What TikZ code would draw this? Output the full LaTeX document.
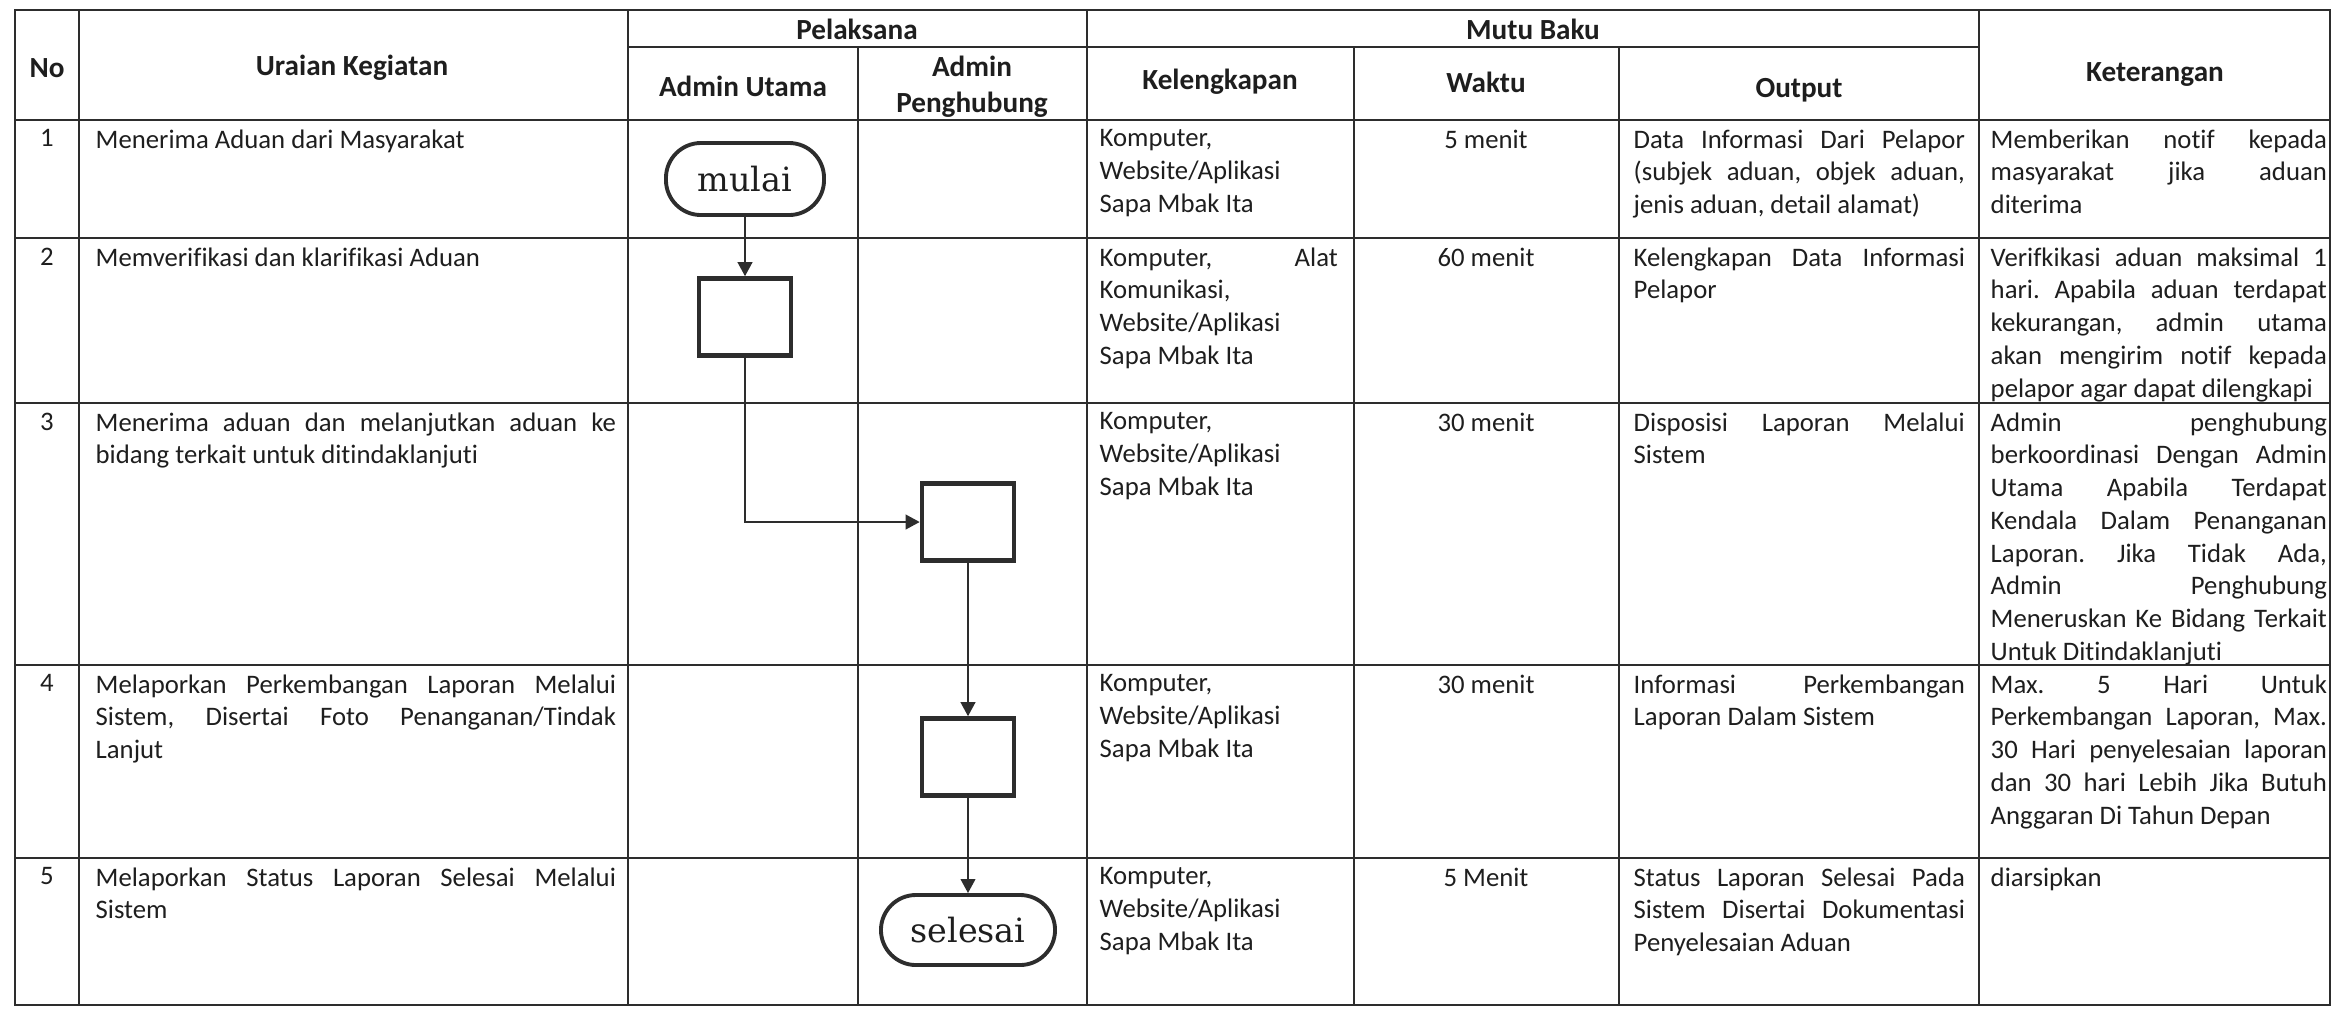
\documentclass[tikz,border=0pt]{standalone}
\usepackage{fontspec}
\setmainfont{Carlito}[Ligatures=NoCommon]
\newfontfamily\flowfont{DejaVu Serif}
\usepackage{tikz}
\usetikzlibrary{arrows.meta, positioning}
\definecolor{clrLine}{RGB}{45,45,45}
\definecolor{clrText}{RGB}{30,30,30}
\hyphenpenalty=10000
\exhyphenpenalty=10000
\frenchspacing

\begin{document}
\begin{tikzpicture}[
  x=0.01cm, y=-0.01cm,
  grid/.style={draw=clrLine, line width=0.6pt},
  head/.style={font=\fontsize{8.3}{10.2}\selectfont\bfseries, align=center, text=clrText},
  num/.style={font=\fontsize{7.6}{9.3}\selectfont, anchor=north, inner sep=0pt, text=clrText},
  cell/.style={num, anchor=north west, align=justify, text width=#1},
  terminal/.style={draw=clrLine, line width=1.1pt, rounded corners=0.35cm,
    minimum width=1.58cm, minimum height=0.72cm, text=clrText,
    font=\flowfont\fontsize{9.5}{10}\selectfont},
  proses/.style={draw=clrLine, line width=1.3pt, minimum width=0.92cm, minimum height=0.77cm},
  arrow/.style={-{Triangle[length=4pt,width=4.2pt]}, line width=0.5pt, color=clrLine}
]
\useasboundingbox (0,0) rectangle (2333,1008);

% Tabel
\draw[grid] (15,10) rectangle (2330,1005);
\foreach \y in {120,238,403,665,858}
  \draw[grid] (15,\y) -- (2330,\y);
\draw[grid] (628,47) -- (1979,47);
\foreach \x in {79,628,1087,1979}
  \draw[grid] (\x,10) -- (\x,1005);
\foreach \x in {858,1354,1619}
  \draw[grid] (\x,47) -- (\x,1005);

% Header
\node[head] (hNo)         at (47,68)   {No};
\node[head] (hUraian)     at (352,68)  {Uraian Kegiatan};
\node[head] (hPelaksana)  at (857,29)  {Pelaksana};
\node[head] (hUtama)      at (743,86)  {Admin Utama};
\node[head] (hPenghubung) at (972,87)  {Admin\\Penghubung};
\node[head] (hMutu)       at (1533,29) {Mutu Baku};
\node[head] (hKelengkapan) at (1220,82) {Kelengkapan};
\node[head] (hWaktu)      at (1486,82) {Waktu};
\node[head] (hOutput)     at (1799,90) {Output};
\node[head] (hKet)        at (2155,74) {Keterangan};

% Baris 1
\node[num] (no1) at (47,129) {1};
\node[cell=5.2cm] (uraian1) at (95,129) {Menerima Aduan dari Masyarakat};
\node[cell=2.38cm] (kel1) at (1099,129) {Komputer,\newline Website/Aplikasi\newline Sapa Mbak Ita};
\node[num] (waktu1) at (1486,129) {5 menit};
\node[cell=3.31cm] (out1) at (1633,129) {Data Informasi Dari Pelapor \linebreak (subjek aduan, objek aduan, \linebreak jenis aduan, detail alamat)};
\node[cell=3.36cm] (ket1) at (1990,129) {Memberikan notif kepada \linebreak masyarakat jika aduan \linebreak diterima};

% Baris 2
\node[num] (no2) at (47,247) {2};
\node[cell=5.2cm] (uraian2) at (95,247) {Memverifikasi dan klarifikasi Aduan};
\node[cell=2.38cm] (kel2) at (1099,247) {Komputer, Alat \linebreak Komunikasi,\newline Website/Aplikasi\newline Sapa Mbak Ita};
\node[num] (waktu2) at (1486,247) {60 menit};
\node[cell=3.31cm] (out2) at (1633,247) {Kelengkapan Data Informasi \linebreak Pelapor};
\node[cell=3.36cm] (ket2) at (1990,247) {Verifkikasi aduan maksimal 1 \linebreak hari. Apabila aduan terdapat \linebreak kekurangan, admin utama \linebreak akan mengirim notif kepada \linebreak pelapor agar dapat dilengkapi};

% Baris 3
\node[num] (no3) at (47,412) {3};
\node[cell=5.2cm] (uraian3) at (95,412) {Menerima aduan dan melanjutkan aduan ke \linebreak bidang terkait untuk ditindaklanjuti};
\node[cell=2.38cm] (kel3) at (1099,412) {Komputer,\newline Website/Aplikasi\newline Sapa Mbak Ita};
\node[num] (waktu3) at (1486,412) {30 menit};
\node[cell=3.31cm] (out3) at (1633,412) {Disposisi Laporan Melalui \linebreak Sistem};
\node[cell=3.36cm] (ket3) at (1990,412) {Admin penghubung \linebreak berkoordinasi Dengan Admin \linebreak Utama Apabila Terdapat \linebreak Kendala Dalam Penanganan \linebreak Laporan. Jika Tidak Ada, \linebreak Admin Penghubung \linebreak Meneruskan Ke Bidang Terkait \linebreak Untuk Ditindaklanjuti};

% Baris 4
\node[num] (no4) at (47,674) {4};
\node[cell=5.2cm] (uraian4) at (95,674) {Melaporkan Perkembangan Laporan Melalui \linebreak Sistem, Disertai Foto Penanganan/Tindak \linebreak Lanjut};
\node[cell=2.38cm] (kel4) at (1099,674) {Komputer,\newline Website/Aplikasi\newline Sapa Mbak Ita};
\node[num] (waktu4) at (1486,674) {30 menit};
\node[cell=3.31cm] (out4) at (1633,674) {Informasi Perkembangan \linebreak Laporan Dalam Sistem};
\node[cell=3.36cm] (ket4) at (1990,674) {Max. 5 Hari Untuk \linebreak Perkembangan Laporan, Max. \linebreak 30 Hari penyelesaian laporan \linebreak dan 30 hari Lebih Jika Butuh \linebreak Anggaran Di Tahun Depan};

% Baris 5
\node[num] (no5) at (47,867) {5};
\node[cell=5.2cm] (uraian5) at (95,867) {Melaporkan Status Laporan Selesai Melalui \linebreak Sistem};
\node[cell=2.38cm] (kel5) at (1099,867) {Komputer,\newline Website/Aplikasi\newline Sapa Mbak Ita};
\node[num] (waktu5) at (1486,867) {5 Menit};
\node[cell=3.31cm] (out5) at (1633,867) {Status Laporan Selesai Pada \linebreak Sistem Disertai Dokumentasi \linebreak Penyelesaian Aduan};
\node[cell=3.36cm] (ket5) at (1990,867) {diarsipkan};

% Alur
\node[terminal] (mulai) at (745,179) {mulai};
\node[proses] (proses1) at (745,317) {};
\node[proses] (proses2) at (968,522) {};
\node[proses] (proses3) at (968,757) {};
\node[terminal, minimum width=1.74cm, minimum height=0.70cm] (selesai) at (968,930) {selesai};

\draw[arrow] (mulai) -- (proses1);
\draw[arrow] (proses1) |- (proses2);
\draw[arrow] (proses2) -- (proses3);
\draw[arrow] (proses3) -- (selesai);

\end{tikzpicture}
\end{document}
